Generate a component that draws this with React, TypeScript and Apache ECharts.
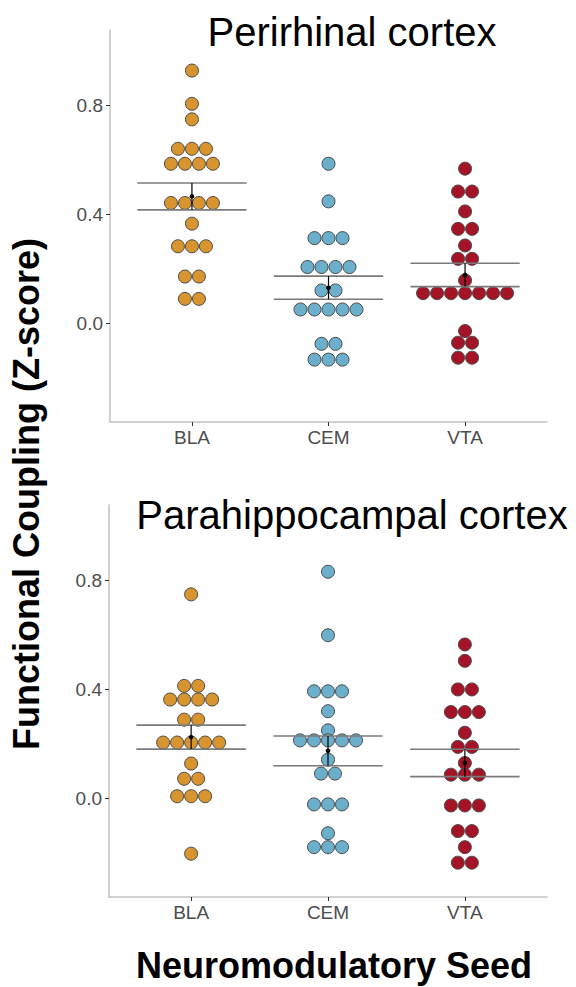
import React, { useEffect, useRef } from "react";
import * as echarts from "echarts";

const categories = ["BLA", "CEM", "VTA"];
const panelTitles = ["Perirhinal cortex", "Parahippocampal cortex"];
const yTickValues = [0, 0.4, 0.8];
const groupColors = ["#D8952F", "#6BAFCC", "#A51426"];

// Perirhinal cortex (binned dot values, one entry per dot)
const periBLA = [0.928, 0.806, 0.749, 0.641, 0.641, 0.641, 0.586, 0.586, 0.586, 0.586, 0.442, 0.442, 0.442, 0.442, 0.366, 0.283, 0.283, 0.283, 0.172, 0.172, 0.09, 0.09];
const periCEM = [0.586, 0.448, 0.313, 0.313, 0.313, 0.207, 0.207, 0.207, 0.207, 0.121, 0.121, 0.051, 0.051, 0.051, 0.051, 0.051, -0.075, -0.075, -0.133, -0.133, -0.133];
const periVTA = [0.568, 0.484, 0.484, 0.411, 0.347, 0.347, 0.286, 0.237, 0.237, 0.158, 0.111, 0.111, 0.111, 0.111, 0.111, 0.111, 0.111, -0.028, -0.071, -0.071, -0.126, -0.126];

// Parahippocampal cortex
const paraBLA = [0.749, 0.413, 0.413, 0.363, 0.363, 0.363, 0.363, 0.289, 0.289, 0.205, 0.205, 0.205, 0.205, 0.205, 0.128, 0.072, 0.072, 0.008, 0.008, 0.008, -0.203];
const paraCEM = [0.832, 0.599, 0.393, 0.393, 0.393, 0.32, 0.25, 0.213, 0.213, 0.213, 0.213, 0.213, 0.142, 0.091, 0.091, -0.022, -0.022, -0.022, -0.128, -0.179, -0.179, -0.179];
const paraVTA = [0.565, 0.505, 0.4, 0.4, 0.317, 0.317, 0.317, 0.241, 0.189, 0.189, 0.13, 0.087, 0.087, 0.087, -0.026, -0.026, -0.026, -0.12, -0.12, -0.179, -0.236, -0.236];

const panels = [
  [periBLA, periCEM, periVTA],
  [paraBLA, paraCEM, paraVTA],
];

const FONT = "'Liberation Sans', Arial, Helvetica, sans-serif";
const DOT = 14;

function meanSe(v: number[]) {
  const n = v.length;
  const m = v.reduce((a, b) => a + b, 0) / n;
  const sd = Math.sqrt(v.reduce((a, b) => a + (b - m) * (b - m), 0) / (n - 1));
  const se = sd / Math.sqrt(n);
  return { m, lo: m - se, hi: m + se };
}

function dotItems(vals: number[], gx: number) {
  const counts: Record<string, number> = {};
  vals.forEach((v) => (counts[v.toFixed(3)] = (counts[v.toFixed(3)] || 0) + 1));
  const used: Record<string, number> = {};
  return vals.map((v) => {
    const key = v.toFixed(3);
    const k = counts[key];
    const j = used[key] || 0;
    used[key] = j + 1;
    return { value: [gx, v], symbolOffset: [(j - (k - 1) / 2) * DOT, 0] };
  });
}

export default function App() {
  const ref = useRef<HTMLDivElement>(null);
  useEffect(() => {
    document.body.style.margin = "0";
    if (!ref.current) return;
    const chart = echarts.init(ref.current, null, { renderer: "svg" });
    const grids = [
      { left: 110, top: 30, width: 437, height: 392 },
      { left: 109, top: 505, width: 438, height: 392 },
    ];
    const xAxes = grids.map((_, i) => ({
      type: "value",
      gridIndex: i,
      min: 0.4,
      max: 3.6,
      splitLine: { show: false },
      axisLine: { show: true, onZero: false, lineStyle: { color: "#c2c2c2", width: 1.5 } },
      axisTick: { show: true, customValues: [1, 2, 3], length: 4, lineStyle: { color: "#333", width: 1 } },
      axisLabel: {
        customValues: [1, 2, 3],
        formatter: (v: number) => categories[Math.round(v) - 1] || "",
        color: "#4d4d4d",
        fontSize: 19,
        fontFamily: FONT,
        margin: 6,
      },
    }));
    const yAxes = grids.map((_, i) => ({
      type: "value",
      gridIndex: i,
      min: -0.362,
      max: 1.077,
      splitLine: { show: false },
      axisLine: { show: true, onZero: false, lineStyle: { color: "#c2c2c2", width: 1.5 } },
      axisTick: { show: true, customValues: yTickValues, length: 4, lineStyle: { color: "#333", width: 1 } },
      axisLabel: {
        customValues: yTickValues,
        formatter: (v: number) => v.toFixed(1),
        color: "#4d4d4d",
        fontSize: 19,
        fontFamily: FONT,
        margin: 7,
      },
    }));
    const series: any[] = [];
    panels.forEach((groups, p) => {
      groups.forEach((vals, g) => {
        series.push({
          type: "scatter",
          xAxisIndex: p,
          yAxisIndex: p,
          symbol: "circle",
          symbolSize: DOT - 1,
          itemStyle: { color: groupColors[g], borderColor: "#4a4a4a", borderWidth: 1, opacity: 1 },
          data: dotItems(vals, g + 1),
          z: 2,
        });
      });
      series.push({
        type: "custom",
        xAxisIndex: p,
        yAxisIndex: p,
        z: 10,
        data: groups.map((vals, g) => {
          const s = meanSe(vals);
          return [g + 1, s.lo, s.hi, s.m];
        }),
        renderItem: (params: any, api: any) => {
          const x = api.value(0);
          const lo = api.coord([x, api.value(1)]);
          const hi = api.coord([x, api.value(2)]);
          const m = api.coord([x, api.value(3)]);
          const hw = api.size([1, 0])[0] * 0.4;
          return {
            type: "group",
            children: [
              { type: "line", shape: { x1: lo[0] - hw, y1: lo[1], x2: lo[0] + hw, y2: lo[1] }, style: { stroke: "#7a7a7a", lineWidth: 1.6 } },
              { type: "line", shape: { x1: hi[0] - hw, y1: hi[1], x2: hi[0] + hw, y2: hi[1] }, style: { stroke: "#7a7a7a", lineWidth: 1.6 } },
              { type: "line", shape: { x1: lo[0], y1: lo[1], x2: hi[0], y2: hi[1] }, style: { stroke: "#000", lineWidth: 1.2 } },
              { type: "circle", shape: { cx: m[0], cy: m[1], r: 2.3 }, style: { fill: "#000" } },
            ],
          };
        },
      });
    });
    chart.setOption({
      animation: false,
      grid: grids,
      xAxis: xAxes,
      yAxis: yAxes,
      series,
      graphic: [
        { type: "text", x: 352, y: 32, style: { text: panelTitles[0], fontSize: 40, fontFamily: FONT, fill: "#000", textAlign: "center", textVerticalAlign: "middle" } },
        { type: "text", x: 352, y: 515, style: { text: panelTitles[1], fontSize: 40, fontFamily: FONT, fill: "#000", textAlign: "center", textVerticalAlign: "middle" } },
        { type: "text", x: 26, y: 494, rotation: Math.PI / 2, style: { text: "Functional Coupling (Z-score)", fontSize: 36, fontWeight: "bold", fontFamily: FONT, fill: "#000", textAlign: "center", textVerticalAlign: "middle" } },
        { type: "text", x: 334, y: 965, style: { text: "Neuromodulatory Seed", fontSize: 36, fontWeight: "bold", fontFamily: FONT, fill: "#000", textAlign: "center", textVerticalAlign: "middle" } },
      ],
    });
    return () => chart.dispose();
  }, []);
  return <div ref={ref} style={{ width: 576, height: 987 }} />;
}
